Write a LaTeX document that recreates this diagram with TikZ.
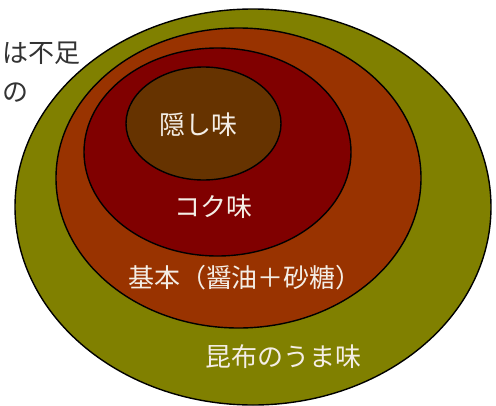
\documentclass[tikz,border=0pt]{standalone}
\usepackage{fontspec}
\setmainfont{Noto Sans CJK JP}
\newfontfamily\cjk{Noto Sans CJK JP}
\definecolor{olivec}{HTML}{808000}
\definecolor{rustc}{HTML}{993300}
\definecolor{maroonc}{HTML}{800000}
\definecolor{brownc}{HTML}{663300}
\definecolor{txtc}{HTML}{F4EEE6}
\begin{document}
\begin{tikzpicture}[x=1pt,y=-1pt,
  ring/.style={draw=black,line width=1.4pt},
  lbl/.style={font=\cjk\fontsize{26}{30}\selectfont,text=txtc,inner sep=0pt},
  note/.style={font=\cjk\fontsize{26}{30}\selectfont,text=black!80,inner sep=0pt,anchor=west}]
\useasboundingbox (0,0) rectangle (496,405);
\fill[white] (0,0) rectangle (496,405);
\filldraw[ring,fill=olivec] (253,207) ellipse [x radius=238,y radius=198];
\filldraw[ring,fill=rustc] (238.5,178) ellipse [x radius=182.5,y radius=150];
\filldraw[ring,fill=maroonc] (217.5,152) ellipse [x radius=133.5,y radius=104];
\filldraw[ring,fill=brownc] (203.5,123.5) ellipse [x radius=77.5,y radius=56.5];
\node[lbl] (kakushi) at (198,125) {隠し味};
\node[lbl] (koku) at (213,207) {コク味};
\node[lbl] (kihon) at (245,278) {基本（醤油＋砂糖）};
\node[lbl] (konbu) at (283,357) {昆布のうま味};
\node[note] (n1) at (2,53) {は不足};
\node[note] (n2) at (2,93) {の};
\end{tikzpicture}
\end{document}
